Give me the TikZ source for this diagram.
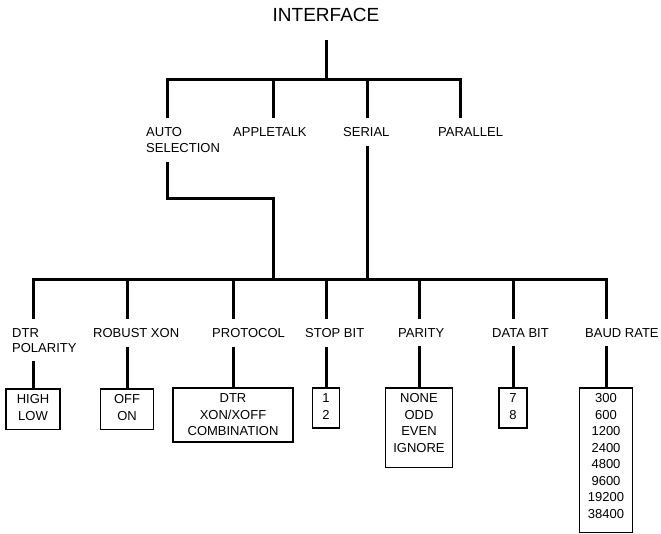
\documentclass[tikz,border=0pt]{standalone}
\usepackage{fontspec}
\setmainfont{Liberation Sans}
\usepackage{tikz}

\newcommand{\padbelow}[1]{\rule[-#1]{0pt}{#1}}

\begin{document}
\begin{tikzpicture}[x=1pt, y=-1pt, font=\fontsize{13}{16.5}\selectfont,
  tree/.style={line width=3pt},
  lbl/.style={anchor=north west, inner xsep=0pt, inner ysep=9pt, align=left},
  opts/.style={draw, line width=1.7pt, anchor=north, align=center, inner sep=6pt}]
  \useasboundingbox (0,0) rectangle (661,534);

  % top level
  \node[font=\fontsize{19}{22}\selectfont] (iface) at (326,15) {INTERFACE};
  \node[lbl] (auto) at (146,118) {AUTO\\SELECTION};
  \node[lbl] (apple) at (233,118) {APPLETALK};
  \node[lbl] (serial) at (343,118) {SERIAL};
  \node[lbl] (para) at (438,118) {PARALLEL};

  % serial settings
  \node[lbl, font=\fontsize{13}{15}\selectfont] (dtr) at (12,319) {DTR\\POLARITY};
  \node[lbl] (robust) at (93,319) {ROBUST XON};
  \node[lbl] (proto) at (212,319) {PROTOCOL};
  \node[lbl] (stopb) at (305,319) {STOP BIT};
  \node[lbl] (parity) at (398,319) {PARITY};
  \node[lbl] (datab) at (492,319) {DATA BIT};
  \node[lbl] (baud) at (585,319) {BAUD RATE};

  % option boxes
  \node[opts, minimum width=54pt] (polopts) at (33,388) {HIGH\\LOW\padbelow{3pt}};
  \node[opts, minimum width=53pt] (xonopts) at (127,388) {OFF\\ON\padbelow{3pt}};
  \node[opts, minimum width=120pt] (protoopts) at (233,387) {DTR\\XON/XOFF\\COMBINATION};
  \node[opts, minimum width=27pt] (stopopts) at (326,387) {1\\2\padbelow{3pt}};
  \node[opts, minimum width=67pt] (parityopts) at (419,387) {NONE\\ODD\\EVEN\\IGNORE\padbelow{9pt}};
  \node[opts, minimum width=28pt] (dataopts) at (513,387) {7\\8\padbelow{3pt}};
  \node[opts, minimum width=53pt] (baudopts) at (606,387) {300\\600\\1200\\2400\\4800\\9600\\19200\\38400\padbelow{8pt}};

  % upper bus
  \coordinate (root) at (326,40);
  \coordinate (u1) at (167,80);
  \coordinate (u2) at (273,80);
  \coordinate (u3) at (367,80);
  \coordinate (u4) at (460,80);
  \draw[tree] (root) -- (root |- u1);
  \draw[tree] (u1 |- auto.north) -- (u1) -- (u4) -- (u4 |- para.north);
  \draw[tree] (u2) -- (u2 |- apple.north);
  \draw[tree] (u3) -- (u3 |- serial.north);

  % lower bus
  \coordinate (jog) at (273,199);
  \coordinate (l1) at (33,280);
  \coordinate (l2) at (127,280);
  \coordinate (l3) at (233,280);
  \coordinate (l4) at (326,280);
  \coordinate (l5) at (419,280);
  \coordinate (l6) at (513,280);
  \coordinate (l7) at (606,280);
  \draw[tree] (u1 |- auto.south) |- (jog) -- (jog |- l1);
  \draw[tree] (u3 |- serial.south) -- (u3 |- l1);
  \draw[tree] (l1 |- dtr.north) -- (l1) -- (l7) -- (l7 |- baud.north);
  \draw[tree] (l2) -- (l2 |- robust.north);
  \draw[tree] (l3) -- (l3 |- proto.north);
  \draw[tree] (l4) -- (l4 |- stopb.north);
  \draw[tree] (l5) -- (l5 |- parity.north);
  \draw[tree] (l6) -- (l6 |- datab.north);

  % labels to boxes
  \draw[tree] (l1 |- dtr.south) -- (polopts.north);
  \draw[tree] (l2 |- robust.south) -- (xonopts.north);
  \draw[tree] (l3 |- proto.south) -- (protoopts.north);
  \draw[tree] (l4 |- stopb.south) -- (stopopts.north);
  \draw[tree] (l5 |- parity.south) -- (parityopts.north);
  \draw[tree] (l6 |- datab.south) -- (dataopts.north);
  \draw[tree] (l7 |- baud.south) -- (baudopts.north);
\end{tikzpicture}
\end{document}
